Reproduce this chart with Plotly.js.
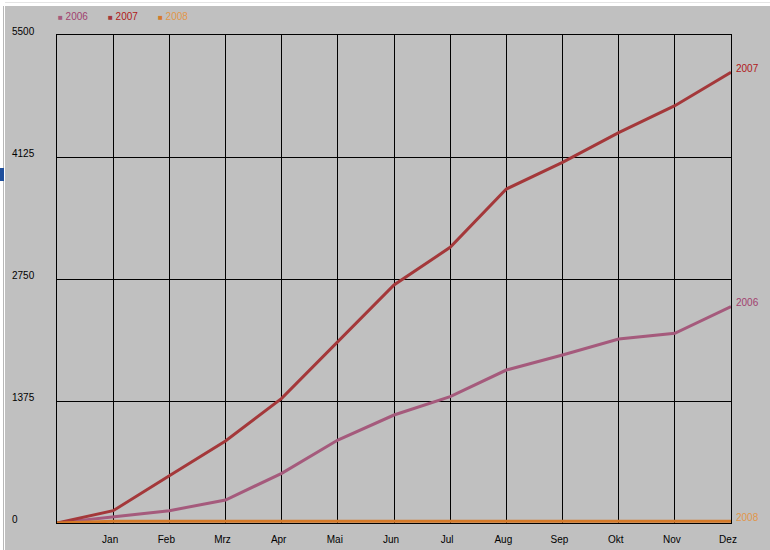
<!DOCTYPE html>
<html>
<head>
<meta charset="utf-8">
<script src="https://cdn.plot.ly/plotly-3.0.1.min.js"></script>
<style>
  html, body { margin: 0; padding: 0; background: #ffffff; width: 770px; height: 550px; overflow: hidden; }
  #topline { position: absolute; left: 5px; top: 2px; width: 765px; height: 1px; background: #e4e4e4; }
  #leftline { position: absolute; left: 3px; top: 6px; width: 1px; height: 544px; background: #b8b8b8; }
  #mark { position: absolute; left: 0px; top: 168px; width: 4px; height: 13px; background: #1f4f9c; }
  #chart { position: absolute; left: 5px; top: 6px; width: 765px; height: 544px; }
</style>
</head>
<body>
<div id="topline"></div>
<div id="leftline"></div>
<div id="mark"></div>
<div id="chart"></div>
<script>
// ---- data ----
const categories = ['', 'Jan', 'Feb', 'Mrz', 'Apr', 'Mai', 'Jun', 'Jul', 'Aug', 'Sep', 'Okt', 'Nov', 'Dez'];
const seriesNames = ['2006', '2007', '2008'];
const values2006 = [0, 71, 139, 259, 560, 935, 1217, 1424, 1724, 1893, 2074, 2138, 2438];
const values2007 = [0, 139, 533, 924, 1405, 2043, 2682, 3107, 3764, 4065, 4399, 4703, 5080];
const values2008 = [0, 20, 20, 20, 20, 20, 20, 20, 20, 20, 20, 20, 20];
const yTickVals = [0, 1375, 2750, 4125, 5500];
const yTickText = ['0', '1375', '2750', '4125', '5500'];

// ---- styles ----
const lineColors = ['#a55a7c', '#a4383a', '#d47a2a'];
const textColors = ['#a0406e', '#b01818', '#e0964a'];
const FONT = 'Liberation Sans, Arial, sans-serif';
const allValues = [values2006, values2007, values2008];

const traces = allValues.map((vals, i) => ({
  type: 'scatter',
  mode: 'lines',
  name: seriesNames[i],
  x: categories,
  y: vals,
  line: { color: lineColors[i], width: 3 },
  showlegend: false,
  hoverinfo: 'x+y+name'
}));

const annotations = [];
// y tick labels (left aligned, sitting above grid lines)
const plotW = 765 - 52 - 39;
yTickVals.forEach((v, i) => {
  annotations.push({
    xref: 'paper', yref: 'y', x: -47 / plotW, y: v,
    xanchor: 'left', yanchor: 'bottom', yshift: -4,
    text: yTickText[i], showarrow: false,
    font: { family: FONT, size: 10, color: '#000000' }
  });
});
// end-of-line series labels
allValues.forEach((vals, i) => {
  annotations.push({
    xref: 'x', yref: 'y', x: categories[categories.length - 1], y: vals[vals.length - 1],
    xanchor: 'left', yanchor: 'middle', xshift: 3, yshift: 4,
    text: seriesNames[i], showarrow: false,
    font: { family: FONT, size: 10, color: textColors[i] }
  });
});
// legend (top-left)
seriesNames.forEach((n, i) => {
  annotations.push({
    xref: 'paper', yref: 'paper', x: (i * 50 - 1) / plotW, y: 1 + 19 / 488,
    xanchor: 'left', yanchor: 'middle',
    text: '<span style="font-size:8px;color:' + lineColors[i] + '">■</span> ' + n,
    showarrow: false,
    font: { family: FONT, size: 10, color: textColors[i] }
  });
});

const layout = {
  width: 765, height: 544,
  margin: { l: 52, r: 39, t: 29, b: 27, pad: 0 },
  paper_bgcolor: '#c0c0c0',
  plot_bgcolor: '#c0c0c0',
  showlegend: false,
  font: { family: FONT, size: 10, color: '#000000' },
  xaxis: {
    type: 'category',
    range: [0, categories.length - 1],
    tickvals: categories,
    ticktext: categories,
    showgrid: true, gridcolor: '#000000', gridwidth: 1,
    showline: true, mirror: true, linecolor: '#000000', linewidth: 1,
    zeroline: false, ticks: '',
    ticklabelstandoff: 7,
    ticklabelshift: -3,
    tickfont: { family: FONT, size: 10, color: '#000000' },
    fixedrange: true
  },
  yaxis: {
    range: [0, 5500],
    tickvals: yTickVals,
    showticklabels: false,
    showgrid: true, gridcolor: '#000000', gridwidth: 1,
    showline: true, mirror: true, linecolor: '#000000', linewidth: 1,
    zeroline: false, ticks: '',
    fixedrange: true
  },
  annotations: annotations
};

Plotly.newPlot('chart', traces, layout, { displayModeBar: false, staticPlot: true });
</script>
</body>
</html>
